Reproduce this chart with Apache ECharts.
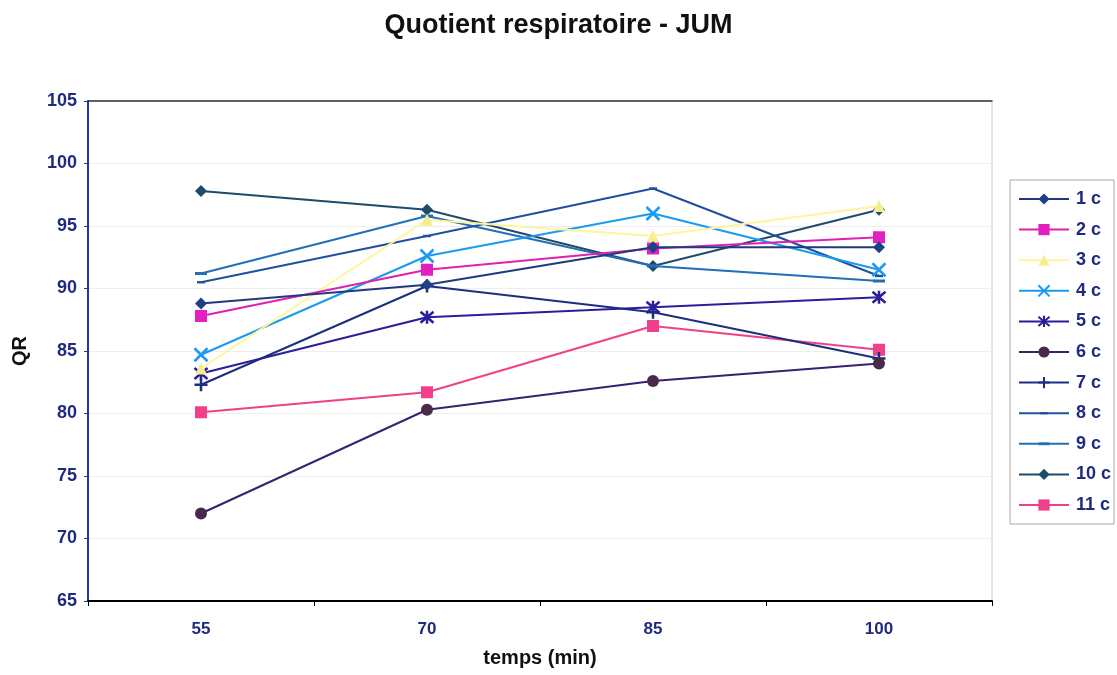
<!DOCTYPE html>
<html>
<head>
<meta charset="utf-8">
<script src="https://cdn.jsdelivr.net/npm/echarts@6/dist/echarts.min.js"></script>
<style>html,body{margin:0;padding:0;background:#fff}#c{width:1117px;height:675px}</style>
</head>
<body>
<div id="c"></div>
<script>
const categories = ['55', '70', '85', '100'];
const seriesNames = ['1 c','2 c','3 c','4 c','5 c','6 c','7 c','8 c','9 c','10 c','11 c'];
const s1  = [88.8, 90.3, 93.3, 93.3];
const s2  = [87.8, 91.5, 93.2, 94.1];
const s3  = [83.6, 95.5, 94.2, 96.6];
const s4  = [84.7, 92.6, 96.0, 91.5];
const s5  = [83.2, 87.7, 88.5, 89.3];
const s6  = [72.0, 80.3, 82.6, 84.0];
const s7  = [82.3, 90.2, 88.1, 84.4];
const s8  = [90.5, 94.2, 98.0, 91.0];
const s9  = [91.2, 95.8, 91.8, 90.6];
const s10 = [97.8, 96.3, 91.8, 96.3];
const s11 = [80.1, 81.7, 87.0, 85.1];
const yTicks = [65, 70, 75, 80, 85, 90, 95, 100, 105];

const values = [s1,s2,s3,s4,s5,s6,s7,s8,s9,s10,s11];
const lineColors = ['#1F3A7F','#E020B0','#FFF59A','#1A9AF0','#2A1E9A','#3A2070','#1A2F80','#1F50A0','#2070B8','#1F4A6A','#F0408A'];
const fillColors = ['#1F3F86','#E020C0','#F5EE90','#1A9AF0','#2A1E9A','#4A2A4A','#1A2F80','#1F50A0','#2070B8','#1F4A6A','#F0408A'];
const X = 'path://M0,0L10,10M10,0L0,10';
const AST = 'path://M0,0L10,10M10,0L0,10M5,-1L5,11';
const PLUS = 'path://M5,-2L5,12M0,5L10,5';
const DASH_S = 'path://M0,0M12,12M2,4.8L10,4.8L10,7.2L2,7.2Z';
const DASH_L = 'path://M0,0M12,12M0,4.5L12,4.5L12,7.5L0,7.5Z';
const symbols = ['diamond','rect','triangle',X,AST,'circle',PLUS,DASH_S,DASH_L,'diamond','rect'];
const sizes = [12,12,12,13,13,12,13,12,12,12,12];
const strokeOnly = [false,false,false,true,true,false,true,false,false,false,false];

const series = seriesNames.map((n,i)=>({
  name: n, type: 'line', data: values[i], xAxisIndex: 0,
  symbol: symbols[i], symbolSize: sizes[i],
  lineStyle: {color: lineColors[i], width: 2},
  itemStyle: strokeOnly[i]
    ? {color: lineColors[i], borderColor: lineColors[i], borderWidth: 2.5}
    : {color: fillColors[i], borderColor: fillColors[i], borderWidth: 0},
  emphasis: {disabled: true},
  z: 2 + (10 - i)
}));

const FONT = 'Liberation Sans, Arial';
const chart = echarts.init(document.getElementById('c'), null, {renderer: 'canvas'});
chart.setOption({
  animation: false,
  backgroundColor: '#fff',
  title: {
    text: 'Quotient respiratoire - JUM', left: 'center', top: 12, padding: 0,
    textStyle: {fontFamily: FONT, fontSize: 27, fontWeight: 'bold', color: '#111'}
  },
  legend: {
    orient: 'vertical', left: 1010, top: 180,
    padding: [10, 3, 10, 8], itemGap: 12.6, itemWidth: 50, itemHeight: 14,
    borderColor: '#aaa', borderWidth: 1,
    textStyle: {fontFamily: FONT, fontSize: 18, fontWeight: 'bold', color: '#1F2A80', padding: [0,0,0,2]},
    data: seriesNames
  },
  grid: {left: 88, right: 125, top: 101, bottom: 74, show: true, borderColor: '#ccc', borderWidth: 1,
    containLabel: false, outerBoundsMode: 'none'},
  xAxis: [{
    type: 'category', data: categories, boundaryGap: true,
    name: 'temps (min)', nameLocation: 'middle', nameGap: 47,
    nameTextStyle: {fontFamily: FONT, fontSize: 20, fontWeight: 'bold', color: '#111'},
    axisLine: {lineStyle: {color: '#000', width: 2}},
    axisTick: {show: true, length: 5, inside: false, lineStyle: {color: '#000'}},
    axisLabel: {margin: 20, fontFamily: FONT, fontSize: 17, fontWeight: 'bold', color: '#1F2A80'}
  }, {
    type: 'category', data: categories, position: 'top', boundaryGap: true,
    axisLine: {show: true, lineStyle: {color: '#333', width: 1.5}},
    axisTick: {show: false}, axisLabel: {show: false}, splitLine: {show: false}
  }],
  yAxis: {
    type: 'value', min: 65, max: 105, interval: 5,
    name: 'QR', nameLocation: 'middle', nameRotate: 90, nameGap: 58,
    nameTextStyle: {fontFamily: FONT, fontSize: 20, fontWeight: 'bold', color: '#111'},
    axisLine: {show: true, lineStyle: {color: '#2233AA', width: 2}},
    axisTick: {show: true, length: 4, lineStyle: {color: '#2233AA'}},
    splitLine: {show: true, lineStyle: {color: '#eeeeee', width: 1}},
    axisLabel: {margin: 11, fontFamily: FONT, fontSize: 18, fontWeight: 'bold', color: '#1F2A80',
      formatter: v => yTicks.includes(v) ? String(v) : ''}
  },
  series: series
});
</script>
</body>
</html>
